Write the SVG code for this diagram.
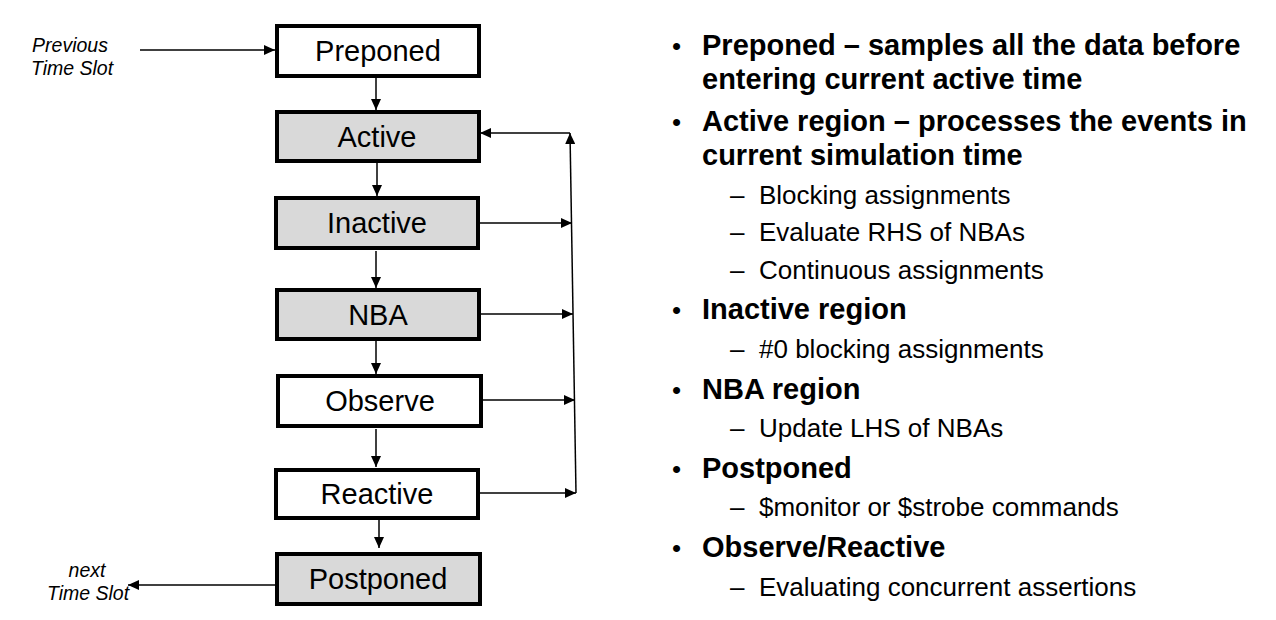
<svg xmlns="http://www.w3.org/2000/svg" width="1276" height="620" viewBox="0 0 1276 620">
<defs>
<marker id="ah" markerUnits="userSpaceOnUse" markerWidth="12" markerHeight="10" refX="11" refY="5" orient="auto">
<path d="M0,0 L11,5 L0,10 z" fill="#000"/>
</marker>
<style>
.box{stroke:#000;stroke-width:4;}
.w{fill:#fff;}
.g{fill:#d9d9d9;}
.lbl{font-family:"Liberation Sans",Arial,sans-serif;font-size:29px;text-anchor:middle;fill:#000;}
.it{font-family:"Liberation Sans",Arial,sans-serif;font-size:19.5px;font-style:italic;text-anchor:middle;fill:#000;}
.c line,.c polyline{stroke:#000;stroke-width:1.5;fill:none;}
.b{font-family:"Liberation Sans",Arial,sans-serif;font-size:29px;font-weight:bold;fill:#000;}
.s{font-family:"Liberation Sans",Arial,sans-serif;font-size:26px;fill:#000;}
</style>
</defs>
<rect width="1276" height="620" fill="#fff"/>

<g id="connectors" class="c">
<line x1="140" y1="50" x2="275" y2="50" marker-end="url(#ah)"/>
<line x1="376" y1="77" x2="376" y2="110" marker-end="url(#ah)"/>
<line x1="377" y1="163" x2="377" y2="196" marker-end="url(#ah)"/>
<line x1="376" y1="251" x2="376" y2="288" marker-end="url(#ah)"/>
<line x1="376" y1="341" x2="376" y2="374" marker-end="url(#ah)"/>
<line x1="376" y1="429" x2="376" y2="467" marker-end="url(#ah)"/>
<line x1="379" y1="512" x2="379" y2="548" marker-end="url(#ah)"/>
<line x1="275" y1="585" x2="128" y2="585" marker-end="url(#ah)"/>
<line x1="479" y1="223" x2="572" y2="223" marker-end="url(#ah)"/>
<line x1="481" y1="314" x2="573" y2="314" marker-end="url(#ah)"/>
<line x1="482" y1="400" x2="575" y2="400" marker-end="url(#ah)"/>
<line x1="479" y1="493" x2="576" y2="493" marker-end="url(#ah)"/>
<line x1="576" y1="493" x2="570" y2="133" marker-end="url(#ah)"/>
<line x1="570" y1="133" x2="480" y2="133" marker-end="url(#ah)"/>
</g>

<g id="prev-label">
<text class="it" x="70" y="52">Previous</text>
<text class="it" x="72" y="75">Time Slot</text>
</g>
<g id="next-label">
<text class="it" x="87" y="577">next</text>
<text class="it" x="88" y="600">Time Slot</text>
</g>

<g id="preponed"><rect class="box w" x="277" y="26" width="202" height="50"/><text class="lbl" x="378" y="61">Preponed</text></g>
<g id="active"><rect class="box g" x="277" y="112" width="202" height="49"/><text class="lbl" x="377" y="147">Active</text></g>
<g id="inactive"><rect class="box g" x="276" y="198" width="202" height="50"/><text class="lbl" x="377" y="233">Inactive</text></g>
<g id="nba"><rect class="box g" x="277" y="290" width="202" height="49"/><text class="lbl" x="378" y="325">NBA</text></g>
<g id="observe"><rect class="box w" x="278" y="376" width="203" height="50"/><text class="lbl" x="380" y="411">Observe</text></g>
<g id="reactive"><rect class="box w" x="276" y="470" width="202" height="48"/><text class="lbl" x="377" y="504">Reactive</text></g>
<g id="postponed"><rect class="box g" x="277" y="554" width="203" height="50"/><text class="lbl" x="378" y="589">Postponed</text></g>

<g id="notes">
<text class="s" x="672" y="55">•</text>
<text class="b" x="702" y="55">Preponed – samples all the data before</text>
<text class="b" x="702" y="89">entering current active time</text>
<text class="s" x="672" y="131">•</text>
<text class="b" x="702" y="131">Active region – processes the events in</text>
<text class="b" x="702" y="165">current simulation time</text>
<text class="s" x="730" y="204">–</text><text class="s" x="759" y="204">Blocking assignments</text>
<text class="s" x="730" y="241">–</text><text class="s" x="759" y="241">Evaluate RHS of NBAs</text>
<text class="s" x="730" y="279">–</text><text class="s" x="759" y="279">Continuous assignments</text>
<text class="s" x="672" y="319">•</text>
<text class="b" x="702" y="319">Inactive region</text>
<text class="s" x="730" y="358">–</text><text class="s" x="759" y="358">#0 blocking assignments</text>
<text class="s" x="672" y="399">•</text>
<text class="b" x="702" y="399">NBA region</text>
<text class="s" x="730" y="437">–</text><text class="s" x="759" y="437">Update LHS of NBAs</text>
<text class="s" x="672" y="478">•</text>
<text class="b" x="702" y="478">Postponed</text>
<text class="s" x="730" y="516">–</text><text class="s" x="759" y="516">$monitor or $strobe commands</text>
<text class="s" x="672" y="557">•</text>
<text class="b" x="702" y="557">Observe/Reactive</text>
<text class="s" x="730" y="596">–</text><text class="s" x="759" y="596">Evaluating concurrent assertions</text>
</g>
</svg>
